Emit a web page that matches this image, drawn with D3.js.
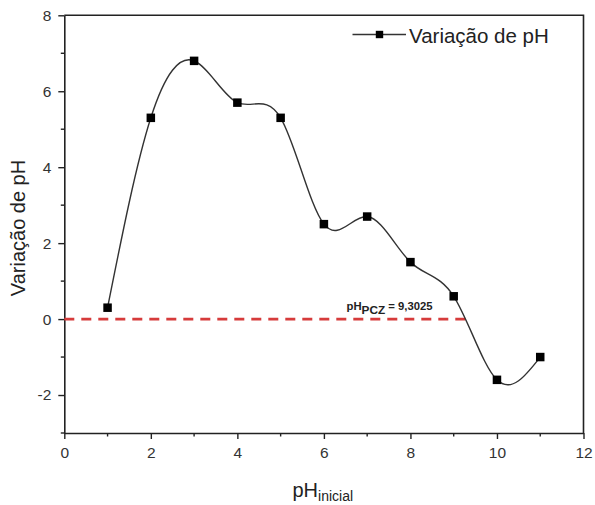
<!DOCTYPE html>
<html lang="pt">
<head>
<meta charset="UTF-8">
<title>Variação de pH</title>
<style>
  body { margin: 0; background: #fff; }
  svg { display: block; font-family: "Liberation Sans", Arial, sans-serif; }
</style>
</head>
<body>
<svg id="chart" width="595" height="505"></svg>
<script src="https://d3js.org/d3.v7.min.js"></script>
<script>
// data
const phInicial = [1, 2, 3, 4, 5, 6, 7, 8, 9, 10, 11];
const variacaoPh = [0.3, 5.3, 6.8, 5.7, 5.3, 2.5, 2.7, 1.5, 0.6, -1.6, -1.0];
const xTicks = [0, 2, 4, 6, 8, 10, 12];
const yTicks = [-2, 0, 2, 4, 6, 8];
const phPcz = 9.3025;

const svg = d3.select('#chart');
const plotL = 64.3, plotR = 583.5, plotT = 15.3, plotB = 433;

const x = d3.scaleLinear().domain([0, 12]).range([plotL, plotR]);
const y = d3.scaleLinear().domain([-3, 8]).range([plotB, plotT]);

// frame (top and right)
svg.append('path')
  .attr('d', `M${plotL},${plotT}H${plotR}V${plotB}`)
  .attr('fill', 'none').attr('stroke', '#222').attr('stroke-width', 1.6);

// minor ticks
const minorX = d3.range(1, 12, 2), minorY = d3.range(-3, 8, 2);
svg.append('g').selectAll('line').data(minorX).join('line')
  .attr('x1', d => x(d)).attr('x2', d => x(d))
  .attr('y1', plotB).attr('y2', plotB + 3.5)
  .attr('stroke', '#222').attr('stroke-width', 1.4);
svg.append('g').selectAll('line').data(minorY).join('line')
  .attr('y1', d => y(d)).attr('y2', d => y(d))
  .attr('x1', plotL).attr('x2', plotL - 3.5)
  .attr('stroke', '#222').attr('stroke-width', 1.4);

// axes (plain hyphen for negatives, like the original)
const fmt = d => String(d);
const xAxis = svg.append('g').attr('transform', `translate(0,${plotB})`)
  .call(d3.axisBottom(x).tickValues(xTicks).tickFormat(fmt).tickSize(6).tickPadding(8).tickSizeOuter(0));
const yAxis = svg.append('g').attr('transform', `translate(${plotL},0)`)
  .call(d3.axisLeft(y).tickValues(yTicks).tickFormat(fmt).tickSize(6).tickPadding(7).tickSizeOuter(0));
[xAxis, yAxis].forEach(g => {
  g.select('.domain').attr('stroke', '#222').attr('stroke-width', 1.6);
  g.selectAll('.tick line').attr('stroke', '#222').attr('stroke-width', 1.4);
  g.selectAll('text').attr('font-size', 15.5).attr('fill', '#333')
    .attr('font-family', '"Liberation Sans", Arial, sans-serif');
});

// pH_PCZ reference line
svg.append('line')
  .attr('x1', x(0)).attr('x2', x(phPcz))
  .attr('y1', y(0)).attr('y2', y(0))
  .attr('stroke', '#d63b3b').attr('stroke-width', 2.6)
  .attr('stroke-dasharray', '10,7');

// spline through the points
const line = d3.line().x((d, i) => x(phInicial[i])).y(d => y(d)).curve(d3.curveNatural);
svg.append('path').datum(variacaoPh)
  .attr('d', line).attr('fill', 'none')
  .attr('stroke', '#333').attr('stroke-width', 1.4);

const ms = 8.5;
svg.append('g').selectAll('rect').data(variacaoPh).join('rect')
  .attr('x', (d, i) => x(phInicial[i]) - ms / 2)
  .attr('y', d => y(d) - ms / 2)
  .attr('width', ms).attr('height', ms).attr('fill', '#000');

// annotation
const ann = svg.append('text').attr('x', 346.5).attr('y', 310)
  .attr('font-size', 11.3).attr('font-weight', 'bold').attr('fill', '#222');
ann.append('tspan').text('pH');
ann.append('tspan').attr('dy', 3.5).attr('font-size', 11.8).text('PCZ');
ann.append('tspan').attr('dy', -3.5).text(' = 9,3025');

// legend
svg.append('line').attr('x1', 352.5).attr('x2', 406).attr('y1', 34.5).attr('y2', 34.5)
  .attr('stroke', '#333').attr('stroke-width', 1.4);
svg.append('rect').attr('x', 379.5 - 3.7).attr('y', 34.5 - 3.7)
  .attr('width', 7.4).attr('height', 7.4).attr('fill', '#000');
svg.append('text').attr('x', 409).attr('y', 43.3)
  .attr('font-size', 20.5).attr('fill', '#222').text('Variação de pH');

// axis titles
svg.append('text')
  .attr('transform', 'translate(25,228) rotate(-90)')
  .attr('text-anchor', 'middle').attr('font-size', 20).attr('fill', '#222')
  .text('Variação de pH');
const xt = svg.append('text').attr('x', 292.5).attr('y', 497)
  .attr('font-size', 20).attr('fill', '#222');
xt.append('tspan').text('pH');
xt.append('tspan').attr('dy', 4).attr('font-size', 14).text('inicial');
</script>
</body>
</html>
